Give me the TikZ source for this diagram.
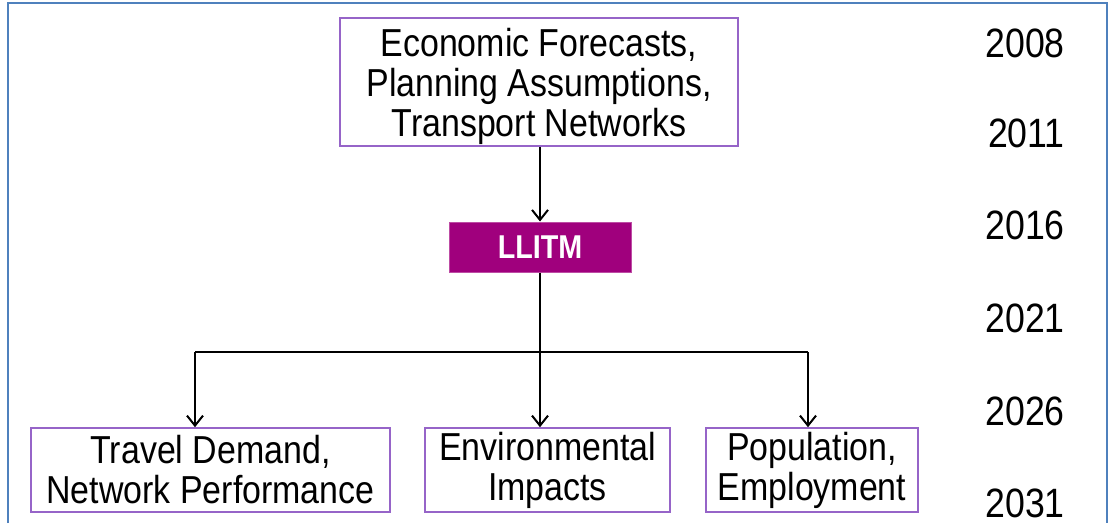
\documentclass[tikz,border=0pt]{standalone}
\usepackage{fontspec}
\setmainfont[FakeStretch=0.87]{Liberation Sans}
\usetikzlibrary{arrows.meta}
\definecolor{framecol}{RGB}{79,129,189}
\definecolor{boxedge}{RGB}{150,100,200}
\definecolor{llitmfill}{RGB}{160,0,125}
\begin{document}
\begin{tikzpicture}[x=1pt,y=-1pt,
  txtbox/.style={draw=boxedge, line width=1.6pt, fill=white, inner sep=0pt,
    align=center, font=\fontsize{39}{40}\selectfont, text=black},
  modelbox/.style={draw=llitmfill!70!white, line width=1pt, fill=llitmfill, inner sep=0pt,
    font=\fontsize{33}{36}\selectfont\bfseries, text=white,
    minimum width=182pt, minimum height=50pt},
  conn/.style={line width=2pt, black},
  arr/.style={conn, -{Straight Barb[length=10pt,width=16pt,line width=2pt]}},
  yearlbl/.style={anchor=base east, inner sep=0pt, font=\fontsize{41}{44}\selectfont}
]
\useasboundingbox (0,0) rectangle (1110,523);
\fill[white] (0,0) rectangle (1110,523);
% frame
\draw[framecol, line width=2pt] (8,523) -- (8,3) -- (1107,3) -- (1107,523);

% nodes
\node[txtbox, minimum width=398pt, minimum height=128pt] (top) at (539,82) {};
\node[align=center, inner sep=0pt, font=\fontsize{39}{40}\selectfont] (toptext) at (539,86)
  {Economic Forecasts,\\Planning Assumptions,\\Transport Networks};
\node[modelbox] (llitm) at (540,247) {LLITM};
\node[txtbox, minimum width=359pt, minimum height=84pt] (b1) at (210.5,470)
  {Travel Demand,\\Network Performance};
\node[txtbox, minimum width=245pt, minimum height=84pt] (b2) at (547.5,470)
  {Environmental\\Impacts};
\node[txtbox, minimum width=212pt, minimum height=84pt] (b3) at (812,470)
  {Population,\\Employment};

% years
\node[yearlbl] (y1) at (1065,57) {2008};
\node[yearlbl] (y2) at (1065,147) {2011};
\node[yearlbl] (y3) at (1065,239) {2016};
\node[yearlbl] (y4) at (1065,332) {2021};
\node[yearlbl] (y5) at (1065,425) {2026};
\node[yearlbl] (y6) at (1065,517) {2031};

% connectors
\coordinate (j) at (540,352);
\coordinate (jl) at (195,352);
\coordinate (jr) at (808,352);
\draw[arr] (llitm.north |- top.south) -- (llitm.north);
\draw[conn] (llitm.south) -- (j);
\draw[conn] (jl) -- (jr);
\draw[arr] (jl) -- (jl |- b1.north);
\draw[arr] (j) -- (j |- b2.north);
\draw[arr] (jr) -- (jr |- b3.north);
\end{tikzpicture}
\end{document}
